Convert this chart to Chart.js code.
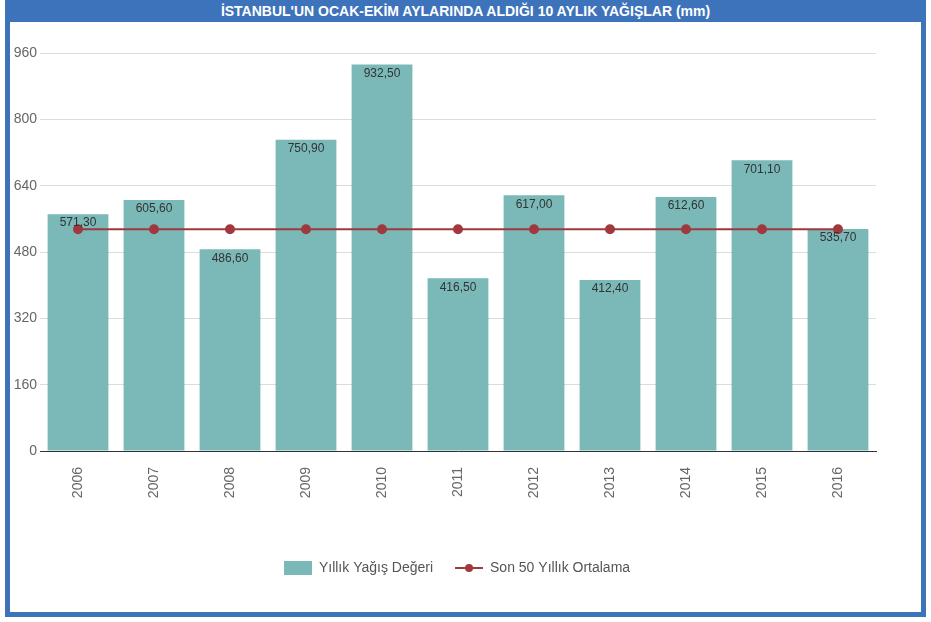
<!DOCTYPE html>
<html>
<head>
<meta charset="utf-8">
<script src="https://cdn.jsdelivr.net/npm/chart.js@4/dist/chart.umd.min.js"></script>
<style>
  body { margin: 0; background: #fff; font-family: "Liberation Sans", Arial, sans-serif; }
  #frame {
    position: absolute; left: 5px; top: 0; width: 911px; height: 612px;
    border: 5px solid #3d73bb; border-top: none; background: #fff;
  }
  #title {
    height: 22px; line-height: 23px; background: #3d73bb; color: #fff;
    font-weight: bold; font-size: 14px; text-align: center;
  }
  #wrap { position: relative; width: 911px; height: 590px; }
</style>
</head>
<body>
<div id="frame">
  <div id="title">İSTANBUL'UN OCAK-EKİM AYLARINDA ALDIĞI 10 AYLIK YAĞIŞLAR (mm)</div>
  <div id="wrap"><canvas id="chart"></canvas></div>
</div>
<script>
// yıllar ve değerler
const years = ["2006", "2007", "2008", "2009", "2010", "2011", "2012", "2013", "2014", "2015", "2016"];
const rainfall = [571.3, 605.6, 486.6, 750.9, 932.5, 416.5, 617.0, 412.4, 612.6, 701.1, 535.7];
const average50 = [535, 535, 535, 535, 535, 535, 535, 535, 535, 535, 535];
const yTicks = [0, 160, 320, 480, 640, 800, 960];

const barColor = "#7ab9b8";
const lineColor = "#a0393e";

// legend icons
function makeIcon(isLine) {
  const c = document.createElement("canvas");
  c.width = 28; c.height = 14;
  const g = c.getContext("2d");
  if (isLine) {
    g.strokeStyle = lineColor; g.lineWidth = 2;
    g.beginPath(); g.moveTo(0, 7); g.lineTo(28, 7); g.stroke();
    g.fillStyle = lineColor;
    g.beginPath(); g.arc(14, 7, 4, 0, Math.PI * 2); g.fill();
  } else {
    g.fillStyle = barColor; g.fillRect(0, 0, 28, 14);
  }
  return c;
}

// bar value labels (comma decimal)
const valueLabels = {
  id: "valueLabels",
  afterLayout(chart) {
    // legend sits a bit right of the plot centre in the original
    chart.legend.left += 14;
    chart.legend.right += 14;
  },
  afterDatasetsDraw(chart) {
    const ctx = chart.ctx;
    const meta = chart.getDatasetMeta(1);
    ctx.save();
    ctx.font = "12px 'Liberation Sans', Arial, sans-serif";
    ctx.fillStyle = "#333";
    ctx.textAlign = "center";
    ctx.textBaseline = "middle";
    meta.data.forEach((bar, i) => {
      ctx.fillText(rainfall[i].toFixed(2).replace(".", ","), bar.x, bar.y + 9);
    });
    ctx.restore();
  }
};

new Chart(document.getElementById("chart"), {
  data: {
    labels: years,
    datasets: [
      {
        type: "line",
        label: "Son 50 Yıllık Ortalama",
        data: average50,
        borderColor: lineColor,
        backgroundColor: lineColor,
        borderWidth: 2,
        pointRadius: 4,
        pointHoverRadius: 4,
        tension: 0,
        order: 0
      },
      {
        type: "bar",
        label: "Yıllık Yağış Değeri",
        data: rainfall,
        backgroundColor: barColor,
        barPercentage: 0.8,
        categoryPercentage: 1,
        order: 1
      }
    ]
  },
  plugins: [valueLabels],
  options: {
    responsive: true,
    maintainAspectRatio: false,
    animation: false,
    layout: { padding: { top: 31, right: 45, bottom: 27, left: 0 } },
    plugins: {
      legend: {
        position: "bottom",
        labels: {
          usePointStyle: true,
          pointStyleWidth: 28,
          boxHeight: 14,
          padding: 22,
          color: "#555",
          font: { family: "'Liberation Sans', Arial, sans-serif", size: 14 },
          generateLabels(chart) {
            return [
              { text: "Yıllık Yağış Değeri", pointStyle: makeIcon(false), datasetIndex: 1, lineWidth: 0, fontColor: "#555" },
              { text: "Son 50 Yıllık Ortalama", pointStyle: makeIcon(true), datasetIndex: 0, lineWidth: 0, fontColor: "#555" }
            ];
          }
        }
      },
      tooltip: { enabled: false }
    },
    scales: {
      x: {
        grid: { display: false, drawTicks: false },
        border: { display: true, color: "#333", width: 1 },
        ticks: {
          color: "#666",
          minRotation: 90,
          maxRotation: 90,
          padding: 16,
          font: { family: "'Liberation Sans', Arial, sans-serif", size: 14 }
        },
        afterFit(scale) { scale.height = 88; }
      },
      y: {
        min: 0,
        max: 960,
        afterBuildTicks(scale) { scale.ticks = yTicks.map(v => ({ value: v })); },
        grid: { color: "#dcdcdc", drawTicks: false },
        border: { display: false },
        ticks: {
          color: "#666",
          padding: 3,
          font: { family: "'Liberation Sans', Arial, sans-serif", size: 14 }
        },
        afterFit(scale) { scale.width = 30; }
      }
    }
  }
});
</script>
</body>
</html>
